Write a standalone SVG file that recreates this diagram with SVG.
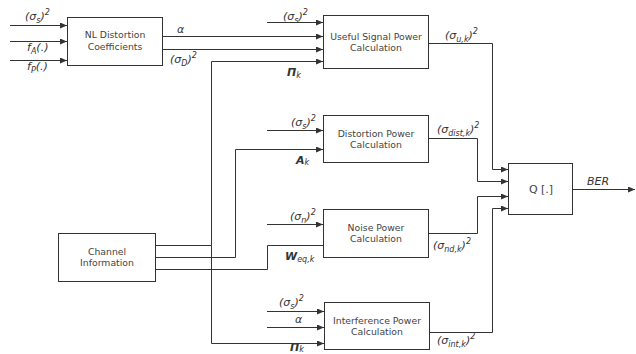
<svg xmlns="http://www.w3.org/2000/svg" width="636" height="354" viewBox="0 0 636 354">
<defs>
<marker id="ah" markerWidth="7" markerHeight="6" refX="7" refY="3" orient="auto" markerUnits="userSpaceOnUse">
<path d="M0,0 L7,3 L0,6 z" fill="#333"/>
</marker>
<style>
.box{fill:#fff;stroke:#333;stroke-width:1}
.bt{font-family:"DejaVu Sans",Verdana,sans-serif;font-size:9.3px;fill:#444;text-anchor:middle}
.lb{font-family:"DejaVu Sans",Verdana,sans-serif;font-size:11px;fill:#333;font-style:italic}
.s{font-size:8px}
.b{font-weight:bold}
.c{fill:none;stroke:#333;stroke-width:1}
.a{marker-end:url(#ah)}
</style>
</defs>
<rect width="636" height="354" fill="#fff"/>
<g id="connectors">
<path class="c a" d="M10,25.5 H67"/>
<path class="c a" d="M10,41.5 H67"/>
<path class="c a" d="M10,60.5 H67"/>
<path class="c a" d="M163,36.5 H323"/>
<path class="c a" d="M163,49.5 H323"/>
<path class="c a" d="M267,22.5 H323"/>
<path class="c a" d="M155,245.5 H211.5 V61.5 H323"/>
<path class="c a" d="M211.5,245.5 V343.5 H324"/>
<path class="c a" d="M155,257.5 H235.5 V149.5 H323"/>
<path class="c a" d="M267,130.5 H323"/>
<path class="c" d="M155,269.5 H267.5 V245.5 H323"/>
<path class="c a" d="M267,224.5 H323"/>
<path class="c a" d="M267,311.5 H324"/>
<path class="c a" d="M267,327.5 H324"/>
<path class="c a" d="M428,43.5 H492.5 V169.5 H508"/>
<path class="c a" d="M428,138.5 H477.5 V181.5 H508"/>
<path class="c a" d="M428,233.5 H477.5 V196.5 H508"/>
<path class="c a" d="M429,332.5 H492.5 V208.5 H508"/>
<path class="c a" d="M573,189.5 H635"/>
</g>
<g id="nl">
<rect class="box" x="67.5" y="17.5" width="95" height="48"/>
<text class="bt" x="115" y="38">NL Distortion</text>
<text class="bt" x="115" y="50">Coefficients</text>
</g>
<g id="useful">
<rect class="box" x="323.5" y="15.5" width="105" height="53"/>
<text class="bt" x="376" y="40">Useful Signal Power</text>
<text class="bt" x="376" y="51">Calculation</text>
</g>
<g id="distortion">
<rect class="box" x="323.5" y="115.5" width="105" height="47"/>
<text class="bt" x="376" y="137">Distortion Power</text>
<text class="bt" x="376" y="148">Calculation</text>
</g>
<g id="noise">
<rect class="box" x="323.5" y="209.5" width="105" height="48"/>
<text class="bt" x="376" y="231">Noise Power</text>
<text class="bt" x="376" y="242">Calculation</text>
</g>
<g id="interference">
<rect class="box" x="324.5" y="302.5" width="105" height="47"/>
<text class="bt" x="377" y="324">Interference Power</text>
<text class="bt" x="377" y="335">Calculation</text>
</g>
<g id="channel">
<rect class="box" x="58.5" y="233.5" width="97" height="48"/>
<text class="bt" x="107" y="255">Channel</text>
<text class="bt" x="107" y="266">Information</text>
</g>
<g id="q">
<rect class="box" x="508.5" y="163.5" width="64" height="51"/>
<text class="bt" x="541" y="193" style="font-size:11px">Q [.]</text>
</g>
<g id="labels">
<text class="lb" x="25" y="20">(σ<tspan class="s" dy="3">s</tspan><tspan dy="-3">)</tspan><tspan class="s" dy="-5">2</tspan></text>
<text class="lb" x="27" y="51">f<tspan class="s" dy="3">A</tspan><tspan dy="-3">(.)</tspan></text>
<text class="lb" x="27" y="70">f<tspan class="s" dy="3">P</tspan><tspan dy="-3">(.)</tspan></text>
<text class="lb" x="177" y="33">α</text>
<text class="lb" x="170" y="63">(σ<tspan class="s" dy="3">D</tspan><tspan dy="-3">)</tspan><tspan class="s" dy="-5">2</tspan></text>
<text class="lb" x="283" y="20">(σ<tspan class="s" dy="3">s</tspan><tspan dy="-3">)</tspan><tspan class="s" dy="-5">2</tspan></text>
<text class="lb" x="287" y="76"><tspan class="b">Π</tspan><tspan class="s" dy="2">k</tspan></text>
<text class="lb" x="291" y="126">(σ<tspan class="s" dy="3">s</tspan><tspan dy="-3">)</tspan><tspan class="s" dy="-5">2</tspan></text>
<text class="lb" x="296" y="164"><tspan class="b">A</tspan><tspan class="s" dy="1">k</tspan></text>
<text class="lb" x="290" y="220">(σ<tspan class="s" dy="3">n</tspan><tspan dy="-3">)</tspan><tspan class="s" dy="-5">2</tspan></text>
<text class="lb" x="285" y="260"><tspan class="b">W</tspan><tspan class="s" dy="2">eq,k</tspan></text>
<text class="lb" x="279" y="306">(σ<tspan class="s" dy="3">s</tspan><tspan dy="-3">)</tspan><tspan class="s" dy="-5">2</tspan></text>
<text class="lb" x="295" y="323">α</text>
<text class="lb" x="290" y="351"><tspan class="b">Π</tspan><tspan class="s" dy="1">k</tspan></text>
<text class="lb" x="445" y="39">(σ<tspan class="s" dy="3">u,k</tspan><tspan dy="-3">)</tspan><tspan class="s" dy="-5">2</tspan></text>
<text class="lb" x="437" y="133">(σ<tspan class="s" dy="3">dist,k</tspan><tspan dy="-3">)</tspan><tspan class="s" dy="-5">2</tspan></text>
<text class="lb" x="433" y="249">(σ<tspan class="s" dy="3">nd,k</tspan><tspan dy="-3">)</tspan><tspan class="s" dy="-5">2</tspan></text>
<text class="lb" x="437" y="344">(σ<tspan class="s" dy="3">int,k</tspan><tspan dy="-3">)</tspan><tspan class="s" dy="-5">2</tspan></text>
<text class="lb" x="587" y="185">BER</text>
</g>
</svg>
